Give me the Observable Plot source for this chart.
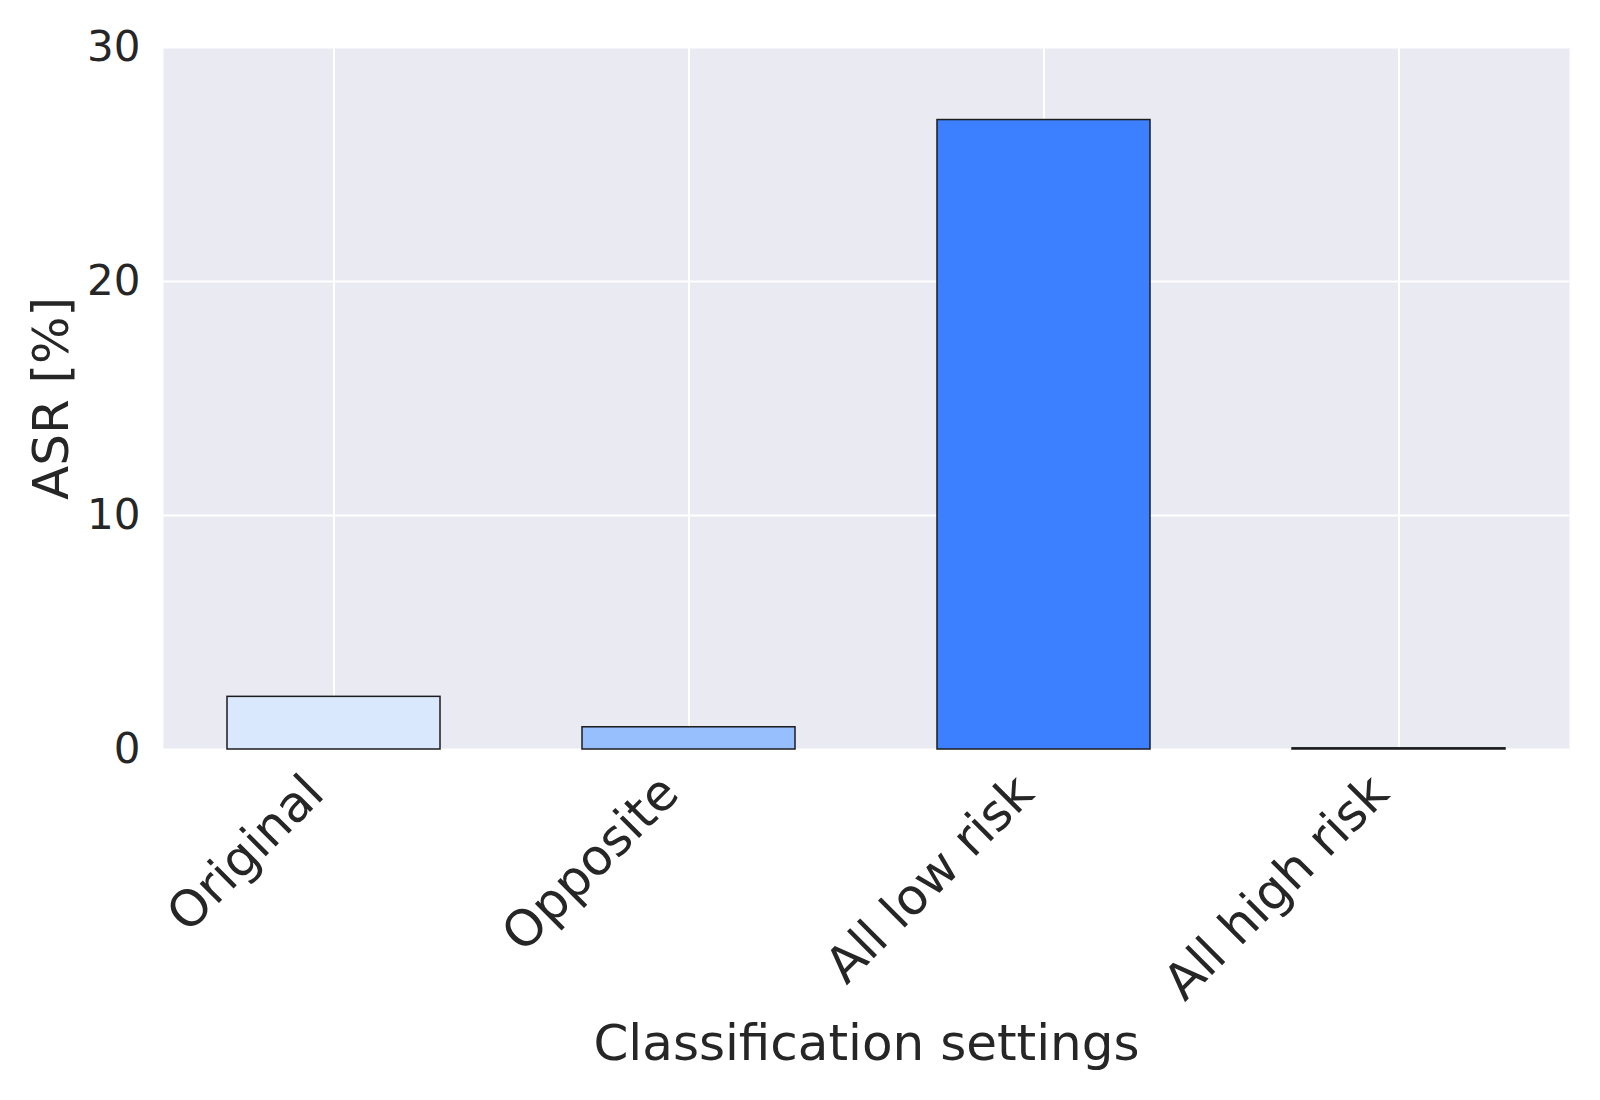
<!DOCTYPE html>
<html><head><meta charset="utf-8">
<script src="https://cdn.jsdelivr.net/npm/d3@7"></script>
<script src="https://cdn.jsdelivr.net/npm/@observablehq/plot@0.6"></script>
<style>body{margin:0;background:#fff}</style>
</head><body><div id="chart"></div>
<script>
const categories = ["Original", "Opposite", "All low risk", "All high risk"];
const asr = [2.25, 0.95, 26.9, 0.05];
const barColors = ["#d9e8fd", "#97bffe", "#3d80ff", "#1f5fd6"];
const yTicks = [0, 10, 20, 30];
const xLabel = "Classification settings";
const yLabel = "ASR [%]";

const data = categories.map((c, i) => ({category: c, value: asr[i], color: barColors[i]}));

const chart = Plot.plot({
  width: 1600, height: 1100,
  marginLeft: 163, marginRight: 31, marginTop: 47, marginBottom: 351,
  style: {fontFamily: "DejaVu Sans", color: "#262626", background: "#fff"},
  x: {domain: categories, paddingInner: 0.4, paddingOuter: 0.175, label: null},
  y: {domain: [0, 30], label: null},
  color: {type: "identity"},
  marks: [
    Plot.frame({fill: "#eaeaf2", stroke: null}),
    Plot.gridX({stroke: "#fff", strokeOpacity: 1, strokeWidth: 2}),
    Plot.gridY(yTicks, {stroke: "#fff", strokeOpacity: 1, strokeWidth: 2}),
    Plot.barY(data, {x: "category", y: "value", fill: "color", stroke: "#1c1c1c", strokeWidth: 1.5}),
    Plot.axisY(yTicks, {tickSize: 0, tickPadding: 23, fontSize: 42, label: null, fill: "#262626"}),
    Plot.axisX({tickSize: 0, tickRotate: -45, tickPadding: 35, fontSize: 50, dx: -19, label: null, fill: "#262626"}),
    Plot.text([yLabel], {frameAnchor: "left", textAnchor: "middle", rotate: -90, dx: -112, fontSize: 50, fill: "#262626"}),
    Plot.text([xLabel], {frameAnchor: "bottom", textAnchor: "middle", dy: 310, fontSize: 50, fill: "#262626"})
  ]
});
document.getElementById("chart").appendChild(chart);
</script>
</body></html>
